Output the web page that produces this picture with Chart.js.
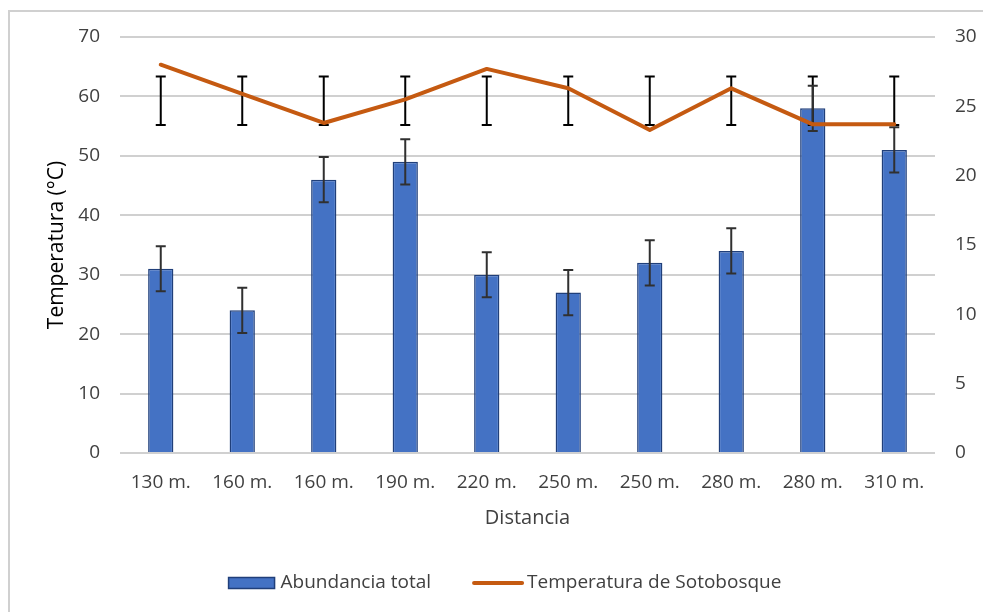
<!DOCTYPE html>
<html>
<head>
<meta charset="utf-8">
<script src="https://cdn.jsdelivr.net/npm/chart.js@4.4.1/dist/chart.umd.min.js"></script>
<style>
  html, body { margin: 0; padding: 0; background: #ffffff; overflow: hidden; }
  #wrap { position: relative; width: 983px; height: 612px; }
</style>
</head>
<body>
<div id="wrap"><canvas id="c" width="983" height="612"></canvas></div>
<script>
// ---- Data ----
const categories = ['130 m.', '160 m.', '160 m.', '190 m.', '220 m.', '250 m.', '250 m.', '280 m.', '280 m.', '310 m.'];
const abundance = [31, 24, 46, 49, 30, 27, 32, 34, 58, 51];
const abundanceErr = [3.8, 3.8, 3.8, 3.8, 3.8, 3.8, 3.8, 3.8, 3.8, 3.8];
const temperature = [28.0, 25.9, 23.8, 25.5, 27.7, 26.3, 23.3, 26.3, 23.7, 23.7];
const temperatureErrLow = [23.65, 23.65, 23.65, 23.65, 23.65, 23.65, 23.65, 23.65, 23.65, 23.65];
const temperatureErrHigh = [27.15, 27.15, 27.15, 27.15, 27.15, 27.15, 27.15, 27.15, 27.15, 27.15];
const leftTicks = [0, 10, 20, 30, 40, 50, 60, 70];
const rightTicks = [0, 5, 10, 15, 20, 25, 30];
const seriesNames = ['Abundancia total', 'Temperatura de Sotobosque'];
const axisTitles = { x: 'Distancia', y: 'Temperatura (°C)' };

const FONT = "'Open Sans', 'Segoe UI', 'Noto Sans', sans-serif";
const TXT = '#404040';
const BAR_FILL = '#4472C4';
const BAR_EDGE = '#203F7A';
const LINE_COLOR = '#C55A11';

function drawErr(ctx, x, yTop, yBot, cap, color) {
  ctx.save();
  ctx.strokeStyle = color;
  ctx.lineWidth = 2;
  ctx.beginPath();
  ctx.moveTo(x, yTop); ctx.lineTo(x, yBot);
  ctx.moveTo(x - cap, yTop); ctx.lineTo(x + cap, yTop);
  ctx.moveTo(x - cap, yBot); ctx.lineTo(x + cap, yBot);
  ctx.stroke();
  ctx.restore();
}

const errorBarsPlugin = {
  id: 'errorBars',
  afterDatasetDraw(chart, args) {
    if (args.index !== 1) return; // after bars are drawn, before the line
    const ctx = chart.ctx;
    const x = chart.scales.x, yL = chart.scales.y, yR = chart.scales.y2;
    for (let i = 0; i < categories.length; i++) {
      const px = x.getPixelForValue(i);
      drawErr(ctx, px, yR.getPixelForValue(temperatureErrHigh[i]), yR.getPixelForValue(temperatureErrLow[i]), 5, '#000000');
    }
    for (let i = 0; i < categories.length; i++) {
      const px = x.getPixelForValue(i);
      drawErr(ctx, px, yL.getPixelForValue(abundance[i] + abundanceErr[i]), yL.getPixelForValue(abundance[i] - abundanceErr[i]), 5, '#303030');
    }
  }
};

const framePlugin = {
  id: 'frame',
  beforeDraw(chart) {
    const ctx = chart.ctx;
    ctx.save();
    ctx.fillStyle = '#ffffff';
    ctx.fillRect(0, 0, chart.width, chart.height);
    ctx.strokeStyle = '#D0D0D0';
    ctx.lineWidth = 2;
    ctx.beginPath();
    ctx.moveTo(9, chart.height + 2);
    ctx.lineTo(9, 11);
    ctx.lineTo(chart.width + 2, 11);
    ctx.stroke();
    ctx.restore();
  }
};

const legendPlugin = {
  id: 'customLegend',
  afterDraw(chart) {
    const ctx = chart.ctx;
    ctx.save();
    ctx.font = "19px " + FONT;
    ctx.textBaseline = 'middle';
    ctx.textAlign = 'left';
    ctx.fillStyle = TXT;
    const cy = 583;
    const w1 = ctx.measureText(seriesNames[0]).width;
    const w2 = ctx.measureText(seriesNames[1]).width;
    const total = 46 + 6 + w1 + 41 + 52 + 3 + w2;
    let x = 505 - total / 2;
    // bar swatch
    ctx.fillStyle = BAR_FILL;
    ctx.fillRect(x, cy - 5.5, 46, 11);
    ctx.strokeStyle = BAR_EDGE;
    ctx.lineWidth = 1.5;
    ctx.strokeRect(x, cy - 5.5, 46, 11);
    x += 46 + 6;
    ctx.fillStyle = TXT;
    ctx.fillText(seriesNames[0], x, cy);
    x += w1 + 41;
    // line swatch
    ctx.strokeStyle = LINE_COLOR;
    ctx.lineWidth = 4;
    ctx.lineCap = 'round';
    ctx.beginPath();
    ctx.moveTo(x + 2, cy); ctx.lineTo(x + 50, cy);
    ctx.stroke();
    x += 52 + 3;
    ctx.fillText(seriesNames[1], x, cy);
    ctx.restore();
  }
};

new Chart(document.getElementById('c'), {
  data: {
    labels: categories,
    datasets: [
      {
        type: 'line',
        label: seriesNames[1],
        data: temperature,
        yAxisID: 'y2',
        borderColor: LINE_COLOR,
        borderWidth: 4,
        borderJoinStyle: 'round',
        borderCapStyle: 'round',
        pointRadius: 0,
        tension: 0,
        fill: false
      },
      {
        type: 'bar',
        label: seriesNames[0],
        data: abundance,
        yAxisID: 'y',
        backgroundColor: BAR_FILL,
        borderColor: BAR_EDGE,
        borderWidth: 1.5,
        categoryPercentage: 1.0,
        barPercentage: 0.31
      }
    ]
  },
  options: {
    responsive: false,
    animation: false,
    layout: { padding: { top: 37, bottom: 74, left: 0, right: 0 } },
    plugins: {
      legend: { display: false },
      tooltip: { enabled: false }
    },
    scales: {
      x: {
        type: 'category',
        grid: { display: false, drawTicks: false },
        border: { display: false },
        ticks: { color: TXT, font: { family: FONT, size: 19 }, padding: 18, maxRotation: 0, autoSkip: false },
        title: { display: true, text: axisTitles.x, color: TXT, font: { family: FONT, size: 20 }, padding: { top: 0, bottom: 8 } },
        afterFit(s) { s.height = 85; }
      },
      y: {
        position: 'left',
        min: 0, max: 70,
        afterBuildTicks(s) { s.ticks = leftTicks.map(v => ({ value: v })); },
        grid: { color: '#D0D0D0', lineWidth: 2, drawTicks: false },
        border: { display: false },
        ticks: { color: TXT, font: { family: FONT, size: 19 }, padding: 20 },
        title: { display: true, text: axisTitles.y, color: '#000000', font: { family: FONT, size: 21 }, padding: { top: 44, bottom: 0 } },
        afterFit(s) { s.width = 120; }
      },
      y2: {
        position: 'right',
        min: 0, max: 30,
        afterBuildTicks(s) { s.ticks = rightTicks.map(v => ({ value: v })); },
        grid: { display: false, drawTicks: false },
        border: { display: false },
        ticks: { color: TXT, font: { family: FONT, size: 19 }, padding: 20 },
        afterFit(s) { s.width = 48; }
      }
    }
  },
  plugins: [framePlugin, errorBarsPlugin, legendPlugin]
});
</script>
</body>
</html>
